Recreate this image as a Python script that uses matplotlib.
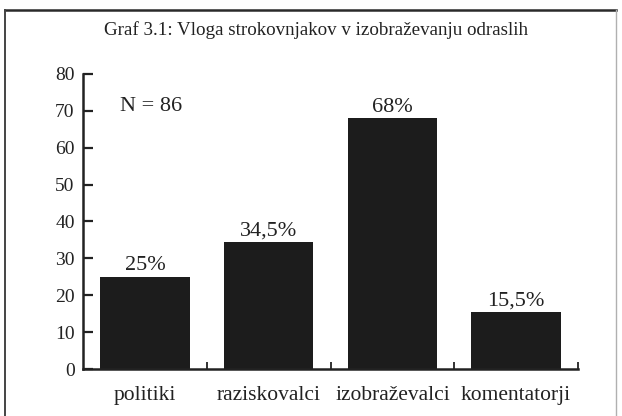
import matplotlib.pyplot as plt
from matplotlib.lines import Line2D

categories = ['politiki', 'raziskovalci', 'izobraževalci', 'komentatorji']
values = [25, 34.5, 68, 15.5]
value_labels = ['25%', '34,5%', '68%', '15,5%']
y_ticks = [0, 10, 20, 30, 40, 50, 60, 70, 80]

plt.rcParams['font.family'] = ['Liberation Serif', 'DejaVu Serif']

W, H = 622, 416
fig = plt.figure(figsize=(W / 100, H / 100), dpi=100)
fig.patch.set_facecolor('white')

# scanned page frame: dark top/left, faint right edge
top_y = 1 - 10 / H
fig.lines.append(Line2D([5 / W, 616 / W], [top_y, top_y], transform=fig.transFigure,
                        color='#2a2a2a', linewidth=1.8))
fig.lines.append(Line2D([5 / W, 5 / W], [0, top_y], transform=fig.transFigure,
                        color='#444444', linewidth=1.4))
fig.lines.append(Line2D([616 / W, 616 / W], [0, top_y], transform=fig.transFigure,
                        color='#b0b0b0', linewidth=1.0))

fig.text(316 / W, 1 - 30 / H, 'Graf 3.1: Vloga strokovnjakov v izobraževanju odraslih',
         ha='center', va='center', fontsize=13.7, color='#222222')

ax = fig.add_axes([83 / W, 1 - 369 / H, (578 - 83) / W, (369 - 74) / H])
x = list(range(len(categories)))
ax.bar(x, values, width=0.725, color='#1c1c1c')
for xi, v, lab in zip(x, values, value_labels):
    ax.text(xi, v + 0.4, lab, ha='center', va='bottom', fontsize=16, color='#222222')

ax.set_xlim(-0.5, 3.5)
ax.set_ylim(0, 80)
ax.set_yticks(y_ticks)
ax.set_xticks(x)
ax.set_xticklabels(categories)
ax.set_xticks([0.5, 1.5, 2.5, 3.5], minor=True)
ax.tick_params(axis='x', which='major', length=0, pad=12, labelsize=15.5, labelcolor='#222222')
ax.tick_params(axis='x', which='minor', direction='in', length=5, width=1.3, color='#222222')
ax.tick_params(axis='y', direction='in', length=7, width=1.6, pad=6, labelsize=14,
               labelcolor='#222222', color='#222222')
for side in ['top', 'right']:
    ax.spines[side].set_visible(False)
for side in ['left', 'bottom']:
    ax.spines[side].set_linewidth(1.8)
    ax.spines[side].set_color('#222222')

ax.text(-0.205, 71.3, 'N = 86', ha='left', va='center', fontsize=16, color='#222222')

plt.savefig('out.png', dpi=100)
